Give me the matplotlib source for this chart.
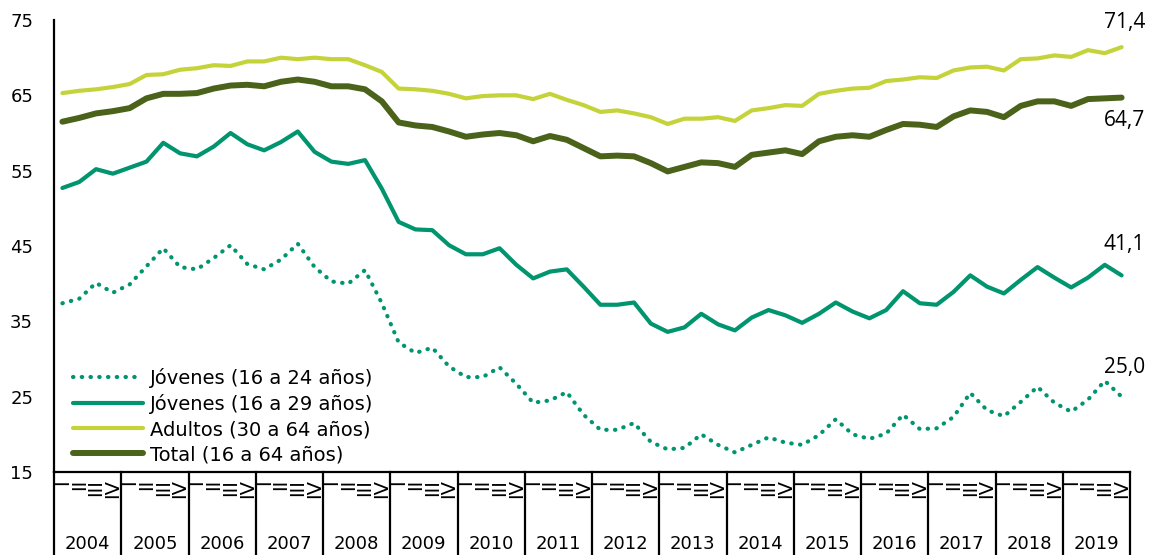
import matplotlib
matplotlib.use("Agg")
import matplotlib.pyplot as plt
from matplotlib.transforms import blended_transform_factory
from matplotlib.lines import Line2D

plt.rcParams['font.family'] = ['DejaVu Sans']

years = [str(y) for y in range(2004, 2020)]
quarters = ["I", "II", "III", "IV"]
y_ticks = [15, 25, 35, 45, 55, 65, 75]

jovenes_16_24 = [
    37.4, 38.0, 40.1, 38.8, 39.9, 42.3, 44.7, 42.2, 41.9, 43.4, 45.1, 42.6, 41.9, 43.2, 45.3, 42.2,
    40.3, 40.0, 41.8, 37.4, 32.2, 30.8, 31.5, 29.0, 27.6, 27.6, 28.9, 26.7, 24.2, 24.5, 25.6, 22.6,
    20.6, 20.6, 21.5, 19.0, 18.0, 18.2, 20.0, 18.6, 17.6, 18.6, 19.6, 18.9, 18.6, 19.9, 22.0, 20.0,
    19.4, 20.1, 22.6, 20.7, 20.8, 22.3, 25.5, 23.2, 22.4, 24.3, 26.3, 24.2, 23.0, 24.6, 27.1, 25.0,
]
jovenes_16_29 = [
    52.7, 53.5, 55.2, 54.6, 55.4, 56.2, 58.7, 57.3, 56.9, 58.2, 60.0, 58.5, 57.7, 58.8, 60.2, 57.5,
    56.2, 55.9, 56.4, 52.6, 48.2, 47.2, 47.1, 45.1, 43.9, 43.9, 44.7, 42.5, 40.7, 41.6, 41.9, 39.6,
    37.2, 37.2, 37.5, 34.7, 33.6, 34.2, 36.0, 34.6, 33.8, 35.5, 36.5, 35.8, 34.8, 36.0, 37.5, 36.3,
    35.4, 36.5, 39.0, 37.4, 37.2, 38.9, 41.1, 39.6, 38.7, 40.5, 42.2, 40.8, 39.5, 40.8, 42.5, 41.1,
]
adultos = [
    65.3, 65.6, 65.8, 66.1, 66.5, 67.7, 67.8, 68.4, 68.6, 69.0, 68.9, 69.5, 69.5, 70.0, 69.8, 70.0,
    69.8, 69.8, 69.0, 68.1, 65.9, 65.8, 65.6, 65.2, 64.6, 64.9, 65.0, 65.0, 64.5, 65.2, 64.4, 63.7,
    62.8, 63.0, 62.6, 62.1, 61.2, 61.9, 61.9, 62.1, 61.6, 63.0, 63.3, 63.7, 63.6, 65.2, 65.6, 65.9,
    66.0, 66.9, 67.1, 67.4, 67.3, 68.3, 68.7, 68.8, 68.3, 69.8, 69.9, 70.3, 70.1, 71.0, 70.6, 71.4,
]
total = [
    61.5, 62.0, 62.6, 62.9, 63.3, 64.6, 65.2, 65.2, 65.3, 65.9, 66.3, 66.4, 66.2, 66.8, 67.1, 66.8,
    66.2, 66.2, 65.8, 64.2, 61.4, 61.0, 60.8, 60.2, 59.5, 59.8, 60.0, 59.7, 58.9, 59.6, 59.1, 58.0,
    56.9, 57.0, 56.9, 56.0, 54.9, 55.5, 56.1, 56.0, 55.5, 57.1, 57.4, 57.7, 57.2, 58.9, 59.5, 59.7,
    59.5, 60.4, 61.2, 61.1, 60.8, 62.2, 63.0, 62.8, 62.1, 63.6, 64.2, 64.2, 63.6, 64.5, 64.6, 64.7,
]
labels = ["Jóvenes (16 a 24 años)", "Jóvenes (16 a 29 años)",
          "Adultos (30 a 64 años)", "Total (16 a 64 años)"]
end_labels = ["25,0", "41,1", "71,4", "64,7"]

c_teal = "#00946F"
c_adult = "#C5D33B"
c_total = "#4A6219"

W, H = 1151, 555
fig = plt.figure(figsize=(W / 100, H / 100), dpi=100)
ax = fig.add_axes([54 / W, 1 - 472 / H, (1130 - 54) / W, (472 - 20) / H])

n = len(total)
x = [i + 0.5 for i in range(n)]

ax.plot(x, jovenes_16_24, color=c_teal, lw=3.0, linestyle=(0, (0.1, 2.0)),
        dash_capstyle='round', label=labels[0])
ax.plot(x, jovenes_16_29, color=c_teal, lw=3.0, solid_joinstyle='round',
        solid_capstyle='round', label=labels[1])
ax.plot(x, adultos, color=c_adult, lw=3.0, solid_joinstyle='round',
        solid_capstyle='round', label=labels[2])
ax.plot(x, total, color=c_total, lw=4.3, solid_joinstyle='round',
        solid_capstyle='round', label=labels[3])

ax.set_xlim(0, n)
ax.set_ylim(15, 75)
ax.set_yticks(y_ticks)
ax.set_yticklabels([str(v) for v in y_ticks], fontsize=13)
ax.tick_params(axis='y', length=0, pad=15)
ax.set_xticks([])

for s in ['top', 'right']:
    ax.spines[s].set_visible(False)
for s in ['left', 'bottom']:
    ax.spines[s].set_linewidth(1.6)
    ax.spines[s].set_color('black')

# end value labels (offsets in pixels)
series = [jovenes_16_24, jovenes_16_29, adultos, total]
offsets = [(3, 29), (3, 31), (3, 25), (3, -23)]
for s, lab, off in zip(series, end_labels, offsets):
    ax.annotate(lab, xy=(x[-1], s[-1]), xytext=off, textcoords='offset pixels',
                ha='center', va='center', fontsize=15,
                family=['Open Sans', 'DejaVu Sans'], annotation_clip=False)

# category axis: quarters and years
tr = blended_transform_factory(ax.transData, fig.transFigure)
for i in range(n):
    ax.text(x[i], 1 - 479 / H, quarters[i % 4], transform=tr, rotation=90,
            ha='center', va='top', fontsize=14)
for k, yr in enumerate(years):
    ax.text(4 * k + 2, 1 - 544 / H, yr, transform=tr, ha='center', va='center', fontsize=13)
for k in range(len(years) + 1):
    fig.add_artist(Line2D([4 * k, 4 * k], [1 - 472 / H, 0], transform=tr,
                          color='black', lw=1.6))

leg = ax.legend(loc='lower left', bbox_to_anchor=(0.0104, 0.0), frameon=False,
                fontsize=14, handlelength=3.6, handletextpad=0.36,
                labelspacing=0.32, borderaxespad=0.0)

fig.savefig("out.png", dpi=100)
